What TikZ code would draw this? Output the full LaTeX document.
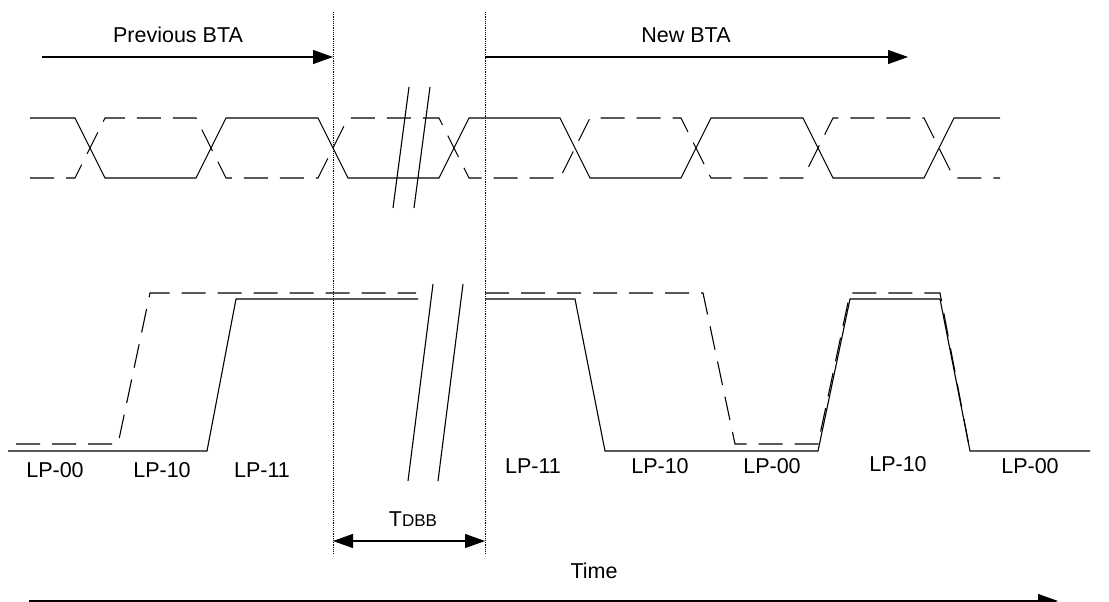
\documentclass[tikz,border=0pt]{standalone}
\usepackage{fontspec}
\setmainfont{Liberation Sans}
\usetikzlibrary{arrows.meta}
\begin{document}
\begin{tikzpicture}[
    x=1pt, y=-1pt,
    wave/.style={line width=1.1pt, line join=miter},
    wavedash/.style={wave, dash pattern=on 24pt off 12pt},
    marker/.style={line width=0.9pt, dash pattern=on 1.2pt off 1pt},
    breakmark/.style={line width=1.1pt},
    arrow/.style={-{Triangle[length=20pt,width=14pt]}, line width=1.1pt},
    span/.style={{Triangle[length=20pt,width=14pt]}-{Triangle[length=20pt,width=14pt]}, line width=1.1pt},
    lbl/.style={font=\fontsize{21.5}{24}\selectfont, inner sep=0pt, anchor=base},
]
\useasboundingbox (0,0) rectangle (1109,602);

% BTA boundaries
\coordinate (m1top) at (333,12);
\coordinate (m1bot) at (333,555);
\coordinate (m2top) at (485,12);
\coordinate (m2bot) at (485,555);
\draw[marker] (m1top) -- (m1bot);
\draw[marker] (m2top) -- (m2bot);

% turnaround arrows
\node[lbl] (prevbta) at (178,43) {Previous BTA};
\node[lbl] (newbta) at (686,43) {New BTA};
\coordinate (prevstart) at (42,57);
\coordinate (newend) at (908,57);
\draw[arrow] (prevstart) -- (prevstart -| m1top);
\draw[arrow] (m2top |- newend) -- (newend);

% clock lanes
\draw[wave] (30,118) -- (75,118) -- (105,178) -- (196,178) -- (226,118) -- (318,118)
    -- (348,178) -- (439,178) -- (469,118) -- (560,118) -- (590,178) -- (681,178)
    -- (711,118) -- (803,118) -- (833,178) -- (924,178) -- (954,118) -- (1000,118);
\draw[wavedash] (30,178) -- (75,178) -- (105,118) -- (196,118) -- (226,178) -- (318,178)
    -- (348,118) -- (439,118) -- (469,178) -- (560,178) -- (590,118) -- (681,118)
    -- (711,178) -- (803,178) -- (833,118) -- (924,118) -- (954,178) -- (1000,178);
\draw[breakmark] (409,87) -- (393,208);
\draw[breakmark] (430,87) -- (414,208);

% data lanes
\draw[wave] (8,451) -- (207,451) -- (236,299) -- (418,299);
\draw[wave] (485,299) -- (575,299) -- (605,451) -- (818,451) -- (850,299) -- (940,299)
    -- (970,451) -- (1090,451);
\draw[wavedash] (16,444) -- (118,444) -- (150,293) -- (416,293);
\draw[wavedash] (485,293) -- (703,293) -- (735,444) -- (818,444) -- (850,293) -- (940,293)
    -- (970,451);
\draw[breakmark] (433,284) -- (408,481);
\draw[breakmark] (463,284) -- (438,481);

% line states
\node[lbl] (s1) at (55,477) {LP-00};
\node[lbl] (s2) at (162,477) {LP-10};
\node[lbl] (s3) at (262,477) {LP-11};
\node[lbl] (s4) at (533,473) {LP-11};
\node[lbl] (s5) at (660,473) {LP-10};
\node[lbl] (s6) at (772,473) {LP-00};
\node[lbl] (s7) at (898,471) {LP-10};
\node[lbl] (s8) at (1030,473) {LP-00};

% TDBB
\coordinate (t1) at (333,541);
\coordinate (t2) at (485,541);
\draw[span] (t1) -- (t2);
\node[lbl] (tdbb) at (413,526) {T\fontsize{17}{19}\selectfont DBB};

% time axis
\node[lbl] (time) at (594,578) {Time};
\coordinate (tstart) at (29,601);
\coordinate (tend) at (1058,601);
\draw[arrow] (tstart) -- (tend);
\end{tikzpicture}
\end{document}
